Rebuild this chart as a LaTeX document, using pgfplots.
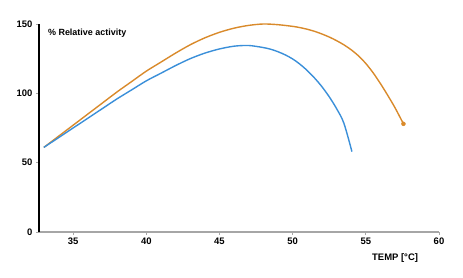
\documentclass[border=0pt]{standalone}
\usepackage{pgfplots}
\pgfplotsset{compat=1.18}
\usepackage{fontspec}
\setmainfont{Liberation Sans}
\definecolor{corange}{HTML}{D98A2B}
\definecolor{cblue}{HTML}{3A8FD9}
\begin{document}
\begin{tikzpicture}
\useasboundingbox (-39bp,-46bp) rectangle (424bp,232bp);
\begin{axis}[
  scale only axis, width=400bp, height=208bp,
  xmin=32.67, xmax=60, ymin=0, ymax=150,
  axis x line*=bottom, axis y line*=left,
  x axis line style={draw=gray!70, line width=1.8pt},
  y axis line style={draw=black, line width=1.3pt},
  xtick={35,40,45,50,55,60}, ytick={0,50,100,150},
  tick style={draw=gray!70, line width=0.8pt},
  tick align=outside, major tick length=3bp,
  /pgf/number format/assume math mode=true,
  ticklabel style={font=\fontsize{9.5}{10}\selectfont\bfseries},
  xticklabel style={yshift=1bp},
  clip=false,
]
\addplot[corange, line width=1.4pt, smooth, tension=0.5] coordinates {
(33,61) (34,69) (35,77) (36,85) (37,93) (38,101) (39,108.5) (40,116) (41,122.5) (42,129) (43,135) (44,140) (45,144) (46,147) (47,149) (48,150) (49,149.5) (50,148.3) (50.5,147.4) (51,146.2) (51.5,144.7) (52,142.8) (52.5,140.6) (53,138.0) (53.5,135.0) (54,131.4) (54.5,127) (55,121.5) (55.5,114.8) (56,107) (56.5,98.5) (57,89.5) (57.57,78)};
\addplot[corange, only marks, mark=*, mark size=2pt] coordinates {(57.57,78)};
\addplot[cblue, line width=1.4pt, smooth, tension=0.5] coordinates {
(33,61) (34,68) (35,75) (36,82) (37,89) (38,96) (39,102.5) (40,109) (41,114.5) (42,120) (43,125) (44,129) (45,132) (46,134) (47,134.5) (48,133) (48.5,131.8) (49,130) (49.5,127.7) (50,124.8) (50.5,121) (51,116.4) (51.5,111) (52,104.8) (52.5,97.5) (53,89) (53.5,78.5) (54.05,58)};
\node[anchor=west, font=\fontsize{9}{10}\selectfont\bfseries] at (axis cs:33.05,143.5) {\% Relative activity};
\node[font=\fontsize{9.5}{10}\selectfont\bfseries] at (axis cs:57.0,-18.6) {TEMP [°C]};
\end{axis}
\end{tikzpicture}
\end{document}
